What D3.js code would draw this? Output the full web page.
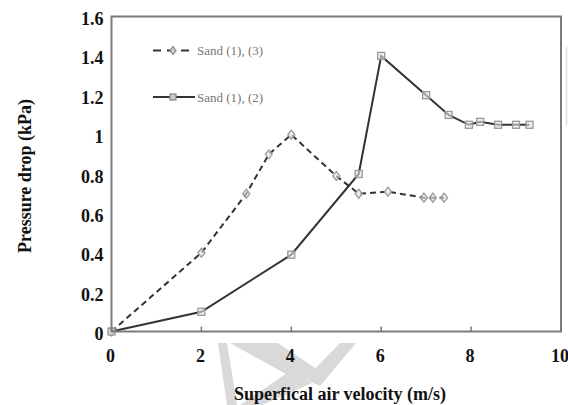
<!DOCTYPE html>
<html>
<head>
<meta charset="utf-8">
<script src="https://cdn.jsdelivr.net/npm/d3@7"></script>
<style>
  body { margin: 0; background: #fff; }
  svg { display: block; }
  .tick-label { font-family: "Liberation Serif", "DejaVu Serif", serif; font-weight: bold; font-size: 18px; fill: #111; }
  .title { font-family: "Liberation Serif", "DejaVu Serif", serif; font-weight: bold; font-size: 18px; fill: #111; }
  .legend { font-family: "Liberation Serif", "DejaVu Serif", serif; font-size: 13px; fill: #777; }
</style>
</head>
<body>
<script>
'use strict';

const W = 568, H = 405;
const margin = {top: 16.5, right: 7, bottom: 73.5, left: 111.5};
const width = W - margin.left - margin.right;
const height = H - margin.top - margin.bottom;

// data
const xTicks = [0, 2, 4, 6, 8, 10];
const yTicks = [0, 0.2, 0.4, 0.6, 0.8, 1, 1.2, 1.4, 1.6];

const sand13X = [0, 2, 3, 3.5, 4, 5, 5.5, 6.15, 6.95, 7.15, 7.4];
const sand13Y = [0, 0.4, 0.7, 0.9, 1.0, 0.79, 0.7, 0.71, 0.68, 0.68, 0.68];

const sand12X = [0, 2, 4, 5.5, 6, 7, 7.5, 7.95, 8.2, 8.6, 9, 9.3];
const sand12Y = [0, 0.1, 0.39, 0.8, 1.4, 1.2, 1.1, 1.05, 1.065, 1.05, 1.05, 1.05];

const series = [
  {name: 'Sand (1), (3)', x: sand13X, y: sand13Y, dash: '6,4', marker: 'diamond'},
  {name: 'Sand (1), (2)', x: sand12X, y: sand12Y, dash: null, marker: 'square'},
];

const xScale = d3.scaleLinear().domain([0, 10]).range([0, width]);
const yScale = d3.scaleLinear().domain([0, 1.6]).range([height, 0]);

const svg = d3.select('body').append('svg')
    .attr('width', W)
    .attr('height', H);

// faint watermark behind the chart
const wm = svg.append('g').attr('fill', '#d9d9d9');
[
  [[218, 343], [227, 343], [237, 405], [227, 405]],
  [[230, 343], [278, 343], [318, 370], [302, 383]],
  [[305, 379], [340, 343], [356, 343], [320, 386]],
  [[290, 371], [312, 383], [262, 405], [240, 405]],
].forEach(p => wm.append('polygon').attr('points', p.map(d => d.join(',')).join(' ')));

svg.append('line')
    .attr('x1', 566.5).attr('x2', 566.5).attr('y1', 47).attr('y2', 125)
    .attr('stroke', '#ddd').attr('stroke-width', 1.5);

const g = svg.append('g')
    .attr('transform', 'translate(' + margin.left + ',' + margin.top + ')');

g.append('rect')
    .attr('width', width).attr('height', height)
    .attr('fill', '#fff');

// x ticks inside bottom
g.selectAll('.xtick').data(xTicks.slice(1, -1)).join('line')
    .attr('x1', d => xScale(d)).attr('x2', d => xScale(d))
    .attr('y1', height).attr('y2', height - 5)
    .attr('stroke', '#777').attr('stroke-width', 1.5);

g.selectAll('.xlab').data(xTicks).join('text')
    .attr('class', 'tick-label')
    .attr('x', d => xScale(d) - 1)
    .attr('y', height + 30.5)
    .attr('text-anchor', 'middle')
    .text(d => d);

g.selectAll('.ylab').data(yTicks).join('text')
    .attr('class', 'tick-label')
    .attr('x', -8)
    .attr('y', d => yScale(d) + 8.5)
    .attr('text-anchor', 'end')
    .text(d => d);

function drawMarker(sel, type, size) {
  const s = size / 2;
  if (type === 'square') {
    sel.append('rect')
        .attr('x', -s).attr('y', -s).attr('width', size).attr('height', size);
  } else {
    sel.append('path')
        .attr('d', 'M0,' + (-s - 1) + 'L' + s + ',0L0,' + (s + 1) + 'L' + (-s) + ',0Z');
  }
}

const line = d3.line();

series.forEach(s => {
  const pts = s.x.map((x, i) => [xScale(x), yScale(s.y[i])]);
  g.append('path')
      .attr('d', line(pts))
      .attr('fill', 'none')
      .attr('stroke', '#333')
      .attr('stroke-width', 2)
      .attr('stroke-dasharray', s.dash);

  pts.forEach(p => {
    const m = g.append('g')
        .attr('transform', 'translate(' + p[0] + ',' + p[1] + ')')
        .attr('fill', '#e4e4e4')
        .attr('fill-opacity', 0.6)
        .attr('stroke', '#999')
        .attr('stroke-width', 1.3);
    drawMarker(m, s.marker, 7);
  });
});

// frame
g.append('rect')
    .attr('width', width).attr('height', height)
    .attr('fill', 'none')
    .attr('stroke', '#7a7a7a')
    .attr('stroke-width', 2);

// legend
const legend = g.append('g').attr('transform', 'translate(41.5,34)');
series.forEach((s, i) => {
  const row = legend.append('g').attr('transform', 'translate(0,' + i * 46.5 + ')');
  row.append('line')
      .attr('x1', 0).attr('x2', 42)
      .attr('stroke', '#333').attr('stroke-width', 2)
      .attr('stroke-dasharray', s.dash ? '8,6' : null);
  const m = row.append('g')
      .attr('transform', 'translate(20,0)')
      .attr('fill', '#ccc').attr('stroke', '#888').attr('stroke-width', 1.2);
  drawMarker(m, s.marker, 6);
  row.append('text')
      .attr('class', 'legend')
      .attr('x', 44).attr('y', 4.5)
      .text(s.name);
});

// axis titles
svg.append('text')
    .attr('class', 'title')
    .attr('x', 340).attr('y', 400)
    .attr('text-anchor', 'middle')
    .text('Superfical air velocity (m/s)');

svg.append('text')
    .attr('class', 'title')
    .attr('transform', 'translate(31,176) rotate(-90)')
    .attr('text-anchor', 'middle')
    .text('Pressure drop (kPa)');
</script>
</body>
</html>
